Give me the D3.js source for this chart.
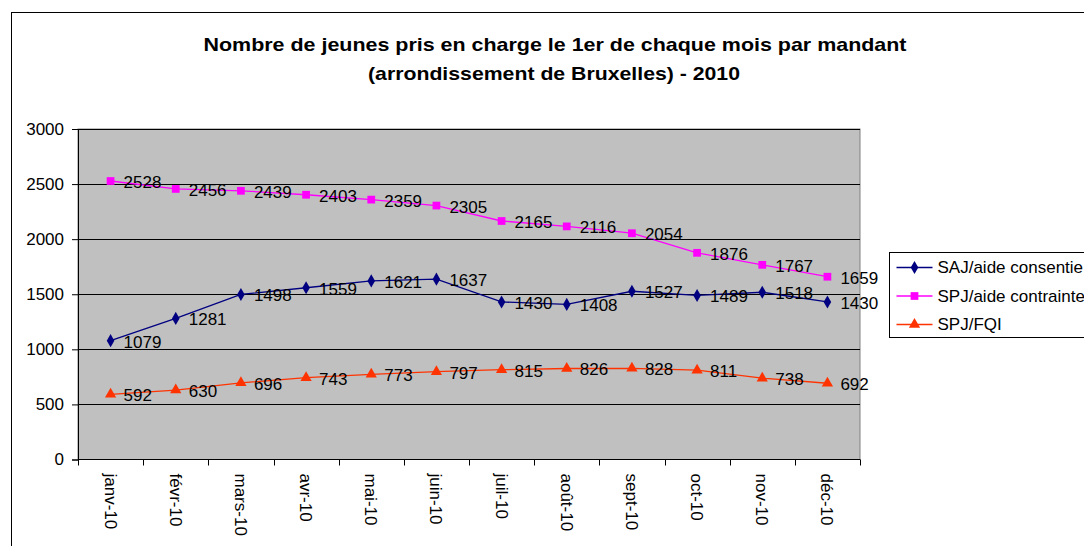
<!DOCTYPE html>
<html>
<head>
<meta charset="utf-8">
<script src="https://cdn.jsdelivr.net/npm/d3@7"></script>
<style>
  body { margin: 0; background: #fff; }
  svg { display: block; font-family: "Liberation Sans", Arial, sans-serif; }
</style>
</head>
<body>
<div class="chart"></div>
<script>
'use strict';

// data
var months = ['janv-10', 'févr-10', 'mars-10', 'avr-10', 'mai-10', 'juin-10',
              'juil-10', 'août-10', 'sept-10', 'oct-10', 'nov-10', 'déc-10'];
var saj = [1079, 1281, 1498, 1559, 1621, 1637, 1430, 1408, 1527, 1489, 1518, 1430];
var spjContrainte = [2528, 2456, 2439, 2403, 2359, 2305, 2165, 2116, 2054, 1876, 1767, 1659];
var spjFqi = [592, 630, 696, 743, 773, 797, 815, 826, 828, 811, 738, 692];
var yTicks = [0, 500, 1000, 1500, 2000, 2500, 3000];

var series = [
    { name: 'SAJ/aide consentie', values: saj, color: '#000080', marker: d3.symbolDiamond, size: 50 },
    { name: 'SPJ/aide contrainte', values: spjContrainte, color: '#FF00FF', marker: d3.symbolSquare, size: 60 },
    { name: 'SPJ/FQI', values: spjFqi, color: '#FF3300', marker: d3.symbolTriangle, size: 55 }
];

var width = 1084;
var height = 546;
var fontSize = 17;
var plot = { left: 78, top: 129, right: 860, bottom: 459.5 };

var svg = d3.select('.chart')
    .append('svg')
    .attr('width', width)
    .attr('height', height);

// outer chart frame (runs past the window edges)
svg.append('rect')
    .attr('x', 11.5).attr('y', 12.5)
    .attr('width', 1200).attr('height', 700)
    .attr('fill', '#fff')
    .attr('stroke', '#000');

// title
svg.append('text')
    .attr('x', 555).attr('y', 51)
    .attr('text-anchor', 'middle')
    .attr('font-size', 19).attr('font-weight', 'bold')
    .attr('textLength', 703).attr('lengthAdjust', 'spacingAndGlyphs')
    .text('Nombre de jeunes pris en charge le 1er de chaque mois par mandant');
svg.append('text')
    .attr('x', 554).attr('y', 80)
    .attr('text-anchor', 'middle')
    .attr('font-size', 19).attr('font-weight', 'bold')
    .attr('textLength', 372).attr('lengthAdjust', 'spacingAndGlyphs')
    .text('(arrondissement de Bruxelles) - 2010');

var x = d3.scaleBand()
    .domain(months)
    .range([plot.left, plot.right]);

var y = d3.scaleLinear()
    .domain([0, 3000])
    .range([plot.bottom, plot.top]);

// plot area
svg.append('rect')
    .attr('x', plot.left).attr('y', plot.top)
    .attr('width', plot.right - plot.left)
    .attr('height', plot.bottom - plot.top)
    .attr('fill', '#C0C0C0')
    .attr('stroke', '#808080');

// gridlines
svg.append('g')
    .selectAll('line')
    .data(yTicks.filter(function (d) { return d > 0; }))
    .enter()
    .append('line')
    .attr('x1', plot.left).attr('x2', plot.right)
    .attr('y1', function (d) { return Math.round(y(d)) + 0.5; })
    .attr('y2', function (d) { return Math.round(y(d)) + 0.5; })
    .attr('stroke', '#000');

// y axis
var yAxis = svg.append('g')
    .attr('transform', 'translate(' + plot.left + ',0)')
    .call(d3.axisLeft(y).tickValues(yTicks).tickSize(6).tickPadding(8).tickFormat(d3.format('d')));
yAxis.select('.domain').attr('stroke', '#000');
yAxis.selectAll('.tick line').attr('stroke', '#000');
yAxis.selectAll('text')
    .attr('font-size', fontSize)
    .attr('fill', '#000')
    .attr('font-family', '"Liberation Sans", Arial, sans-serif');

// x axis
var xAxis = svg.append('g')
    .attr('transform', 'translate(0,' + plot.bottom + ')');
xAxis.append('line')
    .attr('x1', plot.left).attr('x2', plot.right)
    .attr('stroke', '#000');
xAxis.selectAll('.tick')
    .data(d3.range(months.length + 1))
    .enter()
    .append('line')
    .attr('x1', function (i) { return Math.round(plot.left + i * x.step()) + 0.5; })
    .attr('x2', function (i) { return Math.round(plot.left + i * x.step()) + 0.5; })
    .attr('y1', 0).attr('y2', 6)
    .attr('stroke', '#000');
xAxis.selectAll('.lbl')
    .data(months)
    .enter()
    .append('text')
    .attr('transform', function (d) {
        return 'translate(' + (x(d) + x.bandwidth() / 2) + ',14) rotate(90)';
    })
    .attr('dy', '0.35em')
    .attr('font-size', fontSize)
    .text(function (d) { return d; });

// lines, markers and value labels
var line = d3.line()
    .x(function (d, i) { return x(months[i]) + x.bandwidth() / 2; })
    .y(function (d) { return y(d); });

series.forEach(function (s) {
    var g = svg.append('g');

    g.append('path')
        .attr('d', line(s.values))
        .attr('fill', 'none')
        .attr('stroke', s.color)
        .attr('stroke-width', 1.3);

    g.selectAll('path.mark')
        .data(s.values)
        .enter()
        .append('path')
        .attr('class', 'mark')
        .attr('d', d3.symbol().type(s.marker).size(s.size))
        .attr('transform', function (d, i) {
            return 'translate(' + (x(months[i]) + x.bandwidth() / 2) + ',' + y(d) + ')';
        })
        .attr('fill', s.color);

    g.selectAll('text')
        .data(s.values)
        .enter()
        .append('text')
        .attr('x', function (d, i) { return x(months[i]) + x.bandwidth() / 2 + 13; })
        .attr('y', function (d) { return y(d) + 1; })
        .attr('dy', '0.35em')
        .attr('font-size', fontSize)
        .attr('fill', '#000')
        .text(function (d) { return d; });
});

// legend
var legend = svg.append('g')
    .attr('transform', 'translate(889.5,252.5)');

legend.append('rect')
    .attr('width', 300).attr('height', 85)
    .attr('fill', '#fff')
    .attr('stroke', '#000');

var item = legend.selectAll('.item')
    .data(series)
    .enter()
    .append('g')
    .attr('transform', function (d, i) { return 'translate(0,' + (15 + i * 28.5) + ')'; });

item.append('line')
    .attr('x1', 7).attr('x2', 43)
    .attr('stroke', function (d) { return d.color; })
    .attr('stroke-width', 1.3);

item.append('path')
    .attr('d', function (d) { return d3.symbol().type(d.marker).size(d.size)(); })
    .attr('transform', 'translate(25,0)')
    .attr('fill', function (d) { return d.color; });

item.append('text')
    .attr('x', 48)
    .attr('dy', '0.35em')
    .attr('font-size', fontSize)
    .text(function (d) { return d.name; });
</script>
</body>
</html>
